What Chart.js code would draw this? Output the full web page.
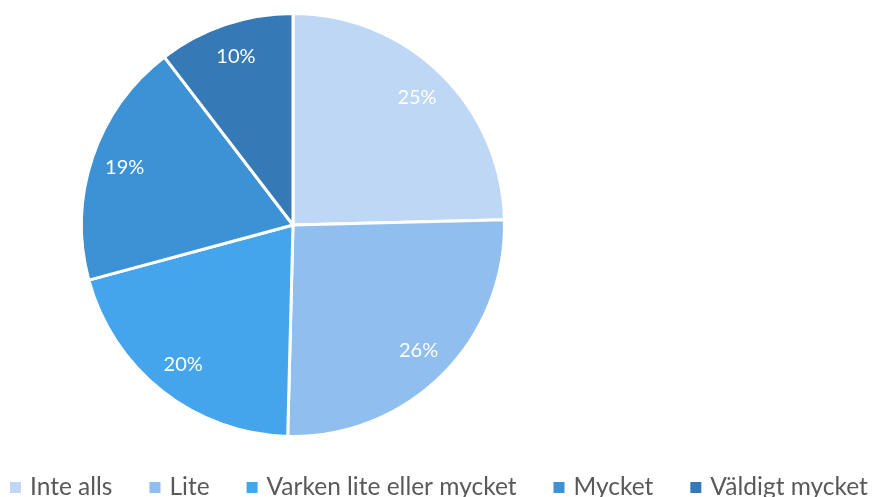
<!DOCTYPE html>
<html>
<head>
<meta charset="utf-8">
<script src="https://cdn.jsdelivr.net/npm/chart.js@4.4.0/dist/chart.umd.min.js"></script>
<style>
  html, body { margin: 0; padding: 0; background: #ffffff; }
  #wrap { width: 877px; height: 497px; position: relative; }
</style>
</head>
<body>
<div id="wrap"><canvas id="chart-pie"></canvas></div>
<script>
// data (slice sizes estimated from the angles, labels rounded)
const categories = ['Inte alls', 'Lite', 'Varken lite eller mycket', 'Mycket', 'Väldigt mycket'];
const shares = [24.6, 25.8, 20.4, 18.8, 10.4];
const sliceColors = ['#bdd7f5', '#8fbeef', '#44a5ec', '#3d92d6', '#357ab6'];

// pie sits to the left, not centred over the legend
const pieBox = { left: 80, top: 12, right: 506, bottom: 438 };

const placePie = {
    id: 'placePie',
    afterLayout(chart) {
        const a = chart.chartArea;
        a.left = pieBox.left;
        a.right = pieBox.right;
        a.top = pieBox.top;
        a.bottom = pieBox.bottom;
        a.width = a.right - a.left;
        a.height = a.bottom - a.top;
    }
};

const sliceLabels = {
    id: 'sliceLabels',
    afterDatasetsDraw(chart) {
        const ctx = chart.ctx;
        const meta = chart.getDatasetMeta(0);
        ctx.save();
        ctx.fillStyle = '#ffffff';
        ctx.font = '20px Lato';
        ctx.textAlign = 'center';
        ctx.textBaseline = 'middle';
        meta.data.forEach((arc, i) => {
            const p = arc.getProps(['x', 'y', 'startAngle', 'endAngle', 'outerRadius'], true);
            const mid = (p.startAngle + p.endAngle) / 2;
            const r = p.outerRadius * 0.84;
            ctx.fillText(Math.round(shares[i]) + '%', p.x + Math.cos(mid) * r, p.y + Math.sin(mid) * r);
        });
        ctx.restore();
    }
};

// legend along the bottom, spread over the full width like the original
const bottomLegend = {
    id: 'bottomLegend',
    afterDraw(chart) {
        const ctx = chart.ctx;
        const y = 487;
        let x = 10;
        ctx.save();
        ctx.font = '24.5px Lato';
        ctx.textBaseline = 'middle';
        ctx.textAlign = 'left';
        categories.forEach((name, i) => {
            ctx.fillStyle = sliceColors[i];
            ctx.fillRect(x, y - 5, 11, 11);
            ctx.fillStyle = '#595959';
            ctx.fillText(name, x + 20, y);
            x += 20 + ctx.measureText(name).width + 37;
        });
        ctx.restore();
    }
};

const ctx = document.getElementById('chart-pie').getContext('2d');
new Chart(ctx, {
    type: 'pie',
    data: {
        labels: categories,
        datasets: [{
            data: shares,
            backgroundColor: sliceColors,
            borderColor: '#ffffff',
            borderWidth: 3
        }]
    },
    options: {
        responsive: true,
        maintainAspectRatio: false,
        animation: false,
        plugins: {
            legend: { display: false },
            tooltip: { enabled: false }
        }
    },
    plugins: [placePie, sliceLabels, bottomLegend]
});
</script>
</body>
</html>
